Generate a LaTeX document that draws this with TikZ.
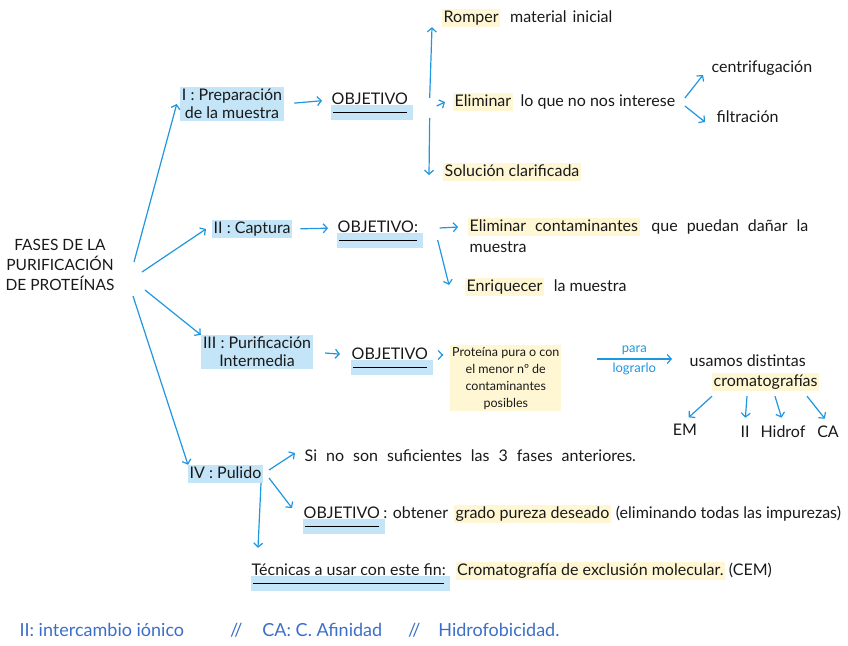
\documentclass[tikz,border=0pt]{standalone}
\usepackage{fontspec}
\setmainfont{Lato}
\usetikzlibrary{arrows.meta,positioning,calc,backgrounds}
\definecolor{pen}{RGB}{30,150,225}
\definecolor{hlblue}{RGB}{196,228,248}
\definecolor{hlyel}{RGB}{255,247,212}
\definecolor{legend}{RGB}{60,110,200}
\definecolor{ink}{RGB}{25,25,25}
\newcommand\ancho{\spaceskip=9pt plus 2pt\relax}

\begin{document}
\begin{tikzpicture}[x=1pt,y=-1pt,font=\fontsize{16}{18}\selectfont,text=ink,
  >={Straight Barb[length=4pt,width=9pt]},
  t/.style={inner sep=1.5pt,text height=11.5pt,text depth=3.5pt},
  w/.style={execute at begin node=\ancho},
  fase/.style={t,fill=hlblue},
  fasem/.style={fill=hlblue,inner sep=2pt,align=center},
  hl/.style={t,fill=hlyel},
  obj/.style={t},
  a/.style={->,draw=pen,line width=1.2pt}]
  \useasboundingbox (0,0) rectangle (848,645);

  \node[align=center,font=\fontsize{15.5}{20}\selectfont] (raiz) at (60,265) {FASES DE LA\\PURIFICACIÓN\\DE PROTEÍNAS};
  \coordinate (rA) at (134,262);
  \coordinate (rB) at (142,272);
  \coordinate (rC) at (145,290);
  \coordinate (rD) at (133,296);

  \node[fasem] (f1) at (232,104) {I : Preparación\\de la muestra};
  \node[fase,anchor=west] (f2) at (212,229) {II : Captura};
  \node[fasem] (f3) at (257,352) {III : Purificación\\Intermedia};
  \node[fase,anchor=west] (f4) at (188,474) {IV : Pulido};
  \draw[a] (rA) -- ([xshift=-3pt]f1.west);
  \draw[a] (rB) -- ([xshift=-6pt]f2.west);
  \draw[a] (rC) -- (f3.north west);
  \draw[a] (rD) -- (f4.north west);

  \node[obj,anchor=west] (o1) at (330,100) {OBJETIVO};
  \node[obj,anchor=west] (o2) at (336,228) {OBJETIVO:};
  \node[obj,anchor=west] (o3) at (350,355) {OBJETIVO};
  \node[obj,anchor=west] (o4) at (302,514) {OBJETIVO};
  \node[obj,anchor=west] (tec) at (250,571) {Técnicas a usar con este fin:};
  \foreach \o in {o1,o2,o3,o4,tec}{
    \begin{scope}[on background layer]
      \fill[hlblue] ($(\o.south west)+(1,-4)$) rectangle ($(\o.south east)+(3,11)$);
    \end{scope}
    \draw[line width=1pt] ($(\o.south west)+(3,3)$) -- ($(\o.south east)+(-3,3)$);
  }
  \draw[a,shorten <=10pt,shorten >=8pt] (f1.east) -- (o1.west);
  \draw[a,shorten <=8pt,shorten >=8pt] (f2.east) -- (o2.west);
  \draw[a,shorten <=12pt,shorten >=10pt] (f3.east) -- (o3.west);

  \node[hl,anchor=west] (romp) at (442,18) {Romper};
  \node[t,w,right=8pt of romp] (romp2) {material\hspace{6pt}inicial};
  \node[hl,anchor=west] (elim) at (453,102) {Eliminar};
  \node[t,right=6pt of elim] (elim2) {lo que no nos interese};
  \node[hl,anchor=west] (sol) at (443,172) {Solución clarificada};
  \node[t,anchor=west] (cent) at (710,68) {centrifugación};
  \node[t,anchor=west] (filt) at (715,118) {filtración};
  \draw[a] ($(o1.east)+(20,-2)$) -- ([xshift=-10pt]romp.south west);
  \draw[a] ($(o1.east)+(27,6)$) -- ([xshift=-8pt]elim.west);
  \draw[a] ($(o1.east)+(20,18)$) -- ([shift={(-14,3)}]sol.west);
  \draw[a] ([shift={(8,-4)}]elim2.east) -- ([shift={(-7,7)}]cent.west);
  \draw[a] ([shift={(8,4)}]elim2.east) -- ([shift={(-10,4)}]filt.west);

  \node[hl,w,anchor=west] (cont) at (468,227) {Eliminar contaminantes};
  \node[t,w,right=10pt of cont] (cont2) {que puedan dañar la};
  \node[t,anchor=west] (cont3) at (468,248) {muestra};
  \node[hl,anchor=west] (enr) at (465,287) {Enriquecer};
  \node[t,right=8pt of enr] (enr2) {la muestra};
  \draw[a] ([xshift=20pt]o2.east) -- ([xshift=-10pt]cont.west);
  \draw[a] ([shift={(18,12)}]o2.east) -- ([shift={(-16,-2)}]enr.west);

  \node[fill=hlyel,inner sep=2pt,align=center,anchor=north west,font=\fontsize{12.5}{17}\selectfont] (prot) at (450,345) {Proteína pura o con\\el menor nº de\\contaminantes\\posibles};
  \node[t,anchor=west] (usa) at (688,362) {usamos distintas};
  \node[hl,anchor=west] (crom) at (712,382) {cromatografías};
  \draw[a] ([xshift=12pt]o3.east) -- ([shift={(-7,10)}]prot.north west);
  \draw[a] ($(prot.north east)+(35,14)$) -- node[above,text=pen,font=\fontsize{13}{15}\selectfont]{para} node[below,text=pen,font=\fontsize{13}{15}\selectfont]{lograrlo} ([shift={(-16,-3)}]usa.west);
  \node (em) at (685,430) {EM};
  \node (ii) at (745,432) {II};
  \node (hid) at (783,432) {Hidrof};
  \node (ca) at (828,432) {CA};
  \foreach \dx/\n in {0/em,35/ii,63/hid,95/ca}
    \draw[a,shorten >=5pt] ([shift={(\dx,5)}]crom.south west) -- (\n.north);

  \node[t,w,anchor=west] (sino) at (303,457) {Si no son suficientes las 3 fases anteriores.};
  \node[t,right=0pt of o4] (o4b) {: obtener};
  \node[hl,right=4pt of o4b] (grado) {grado pureza deseado};
  \node[t,right=3pt of grado] (elimt) {(eliminando todas las impurezas)};
  \node[hl,right=8pt of tec] (cem) {Cromatografía de exclusión molecular.};
  \node[t,right=2pt of cem] (cem2) {(CEM)};
  \draw[a] ([shift={(6,-4)}]f4.east) -- ([shift={(-8,-4)}]sino.west);
  \draw[a] ([shift={(6,4)}]f4.east) -- ([shift={(-10,-6)}]o4.west);
  \draw[a] ([xshift=-2pt]f4.south east) -- ([shift={(8,-14)}]tec.north west);

  \node[anchor=west,text=legend,font=\fontsize{18}{20}\selectfont] (ley) at (16,630) {II: intercambio iónico\hspace{46pt}//\hspace{20pt}CA: C. Afinidad\hspace{26pt}//\hspace{18pt}Hidrofobicidad.};
\end{tikzpicture}
\end{document}
